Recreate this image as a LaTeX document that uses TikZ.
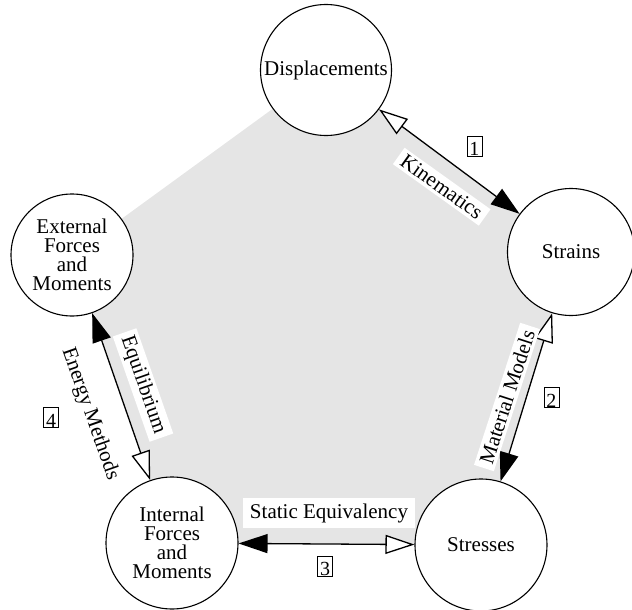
\documentclass[tikz,border=0pt]{standalone}
\usepackage{fontspec}
\setmainfont{Liberation Serif}
\usetikzlibrary{arrows.meta,backgrounds}
\begin{document}
\begin{tikzpicture}[x=1pt,y=-1pt,
  every node/.style={font=\fontsize{21}{19}\selectfont},
  topic/.style={circle, draw, line width=1.1pt, fill=white, inner sep=0pt, align=center},
  link/.style={line width=1.3pt,
    {Triangle[length=29pt,width=19pt,fill=white]}-{Triangle[length=29pt,width=19pt]}},
  lab/.style={fill=white, inner xsep=5pt, inner ysep=3pt},
  num/.style={draw, line width=0.6pt, inner xsep=2.5pt, inner ysep=0pt,
    text height=20pt, text depth=0pt, font=\fontsize{20}{20}\selectfont}]
\useasboundingbox (0,0) rectangle (632,610);
% circles
\node[topic, minimum size=131pt] (disp) at (326,70) {Displacements};
\node[topic, minimum size=127pt] (strains) at (571,252) {Strains};
\node[topic, minimum size=132pt] (stresses) at (481,545) {Stresses};
\node[topic, minimum size=132pt] (int) at (172,543) {Internal\\Forces\\and\\Moments};
\node[topic, minimum size=122pt] (ext) at (72,255) {External\\Forces\\and\\Moments};
% gray pentagon
\begin{pgfonlayer}{background}
\fill[black!10] (ext.center) -- (disp.center) -- (strains.center)
  -- (stresses.center) -- (int.center) -- cycle;
\end{pgfonlayer}
% connectors
\draw[link] (disp) -- (strains);
\draw[link] (strains) -- (stresses);
\draw[link] (stresses) -- (int);
\draw[link] (int) -- (ext);
% labels
\node[lab, rotate=-35.6] (kin) at (441.7,186.7) {Kinematics};
\node[lab, rotate=72] (mat) at (507,397) {Material Models};
\node[lab, inner xsep=7pt, inner ysep=5pt] (stat) at (329,513) {Static Equivalency};
\node[lab, rotate=-70.7] (equ) at (143,385) {Equilibrium};
\node[rotate=-70.7] (ene) at (90,414) {Energy Methods};
% numbers
\node[num] (n1) at (474.3,145.8) {1};
\node[num] (n2) at (551.3,397.2) {2};
\node[num] (n3) at (325,565.8) {3};
\node[num] (n4) at (51,417) {4};
\end{tikzpicture}
\end{document}
